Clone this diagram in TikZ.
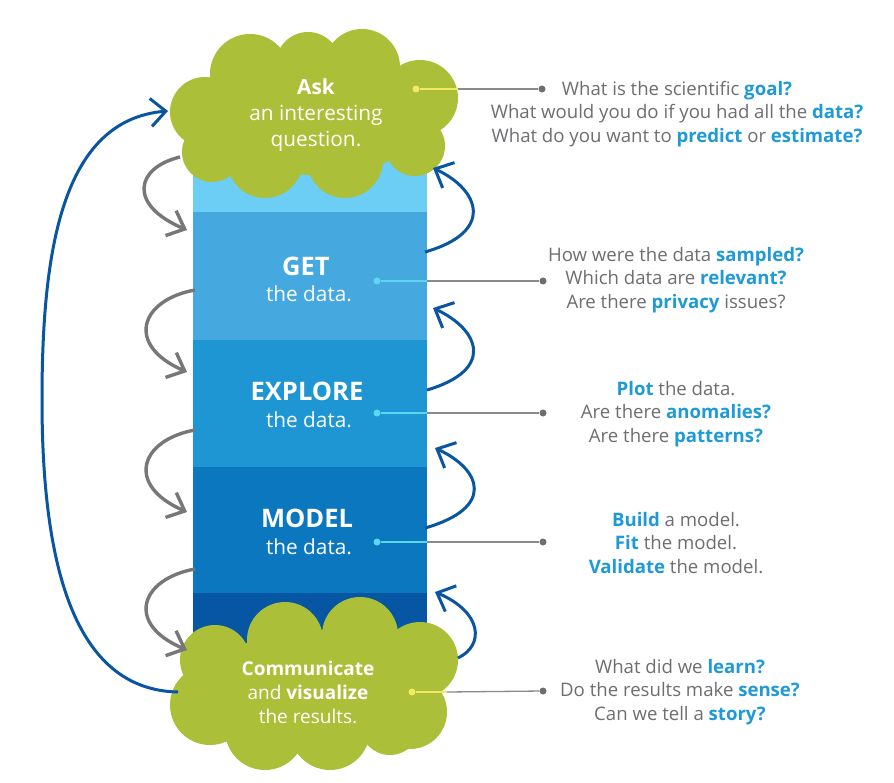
\documentclass[tikz,border=0pt]{standalone}
\usepackage{fontspec}
\setmainfont{Open Sans}
\usetikzlibrary{arrows.meta}
\definecolor{cloudgreen}{HTML}{ACBF38}
\definecolor{bandA}{HTML}{6CCEF5}
\definecolor{bandB}{HTML}{45A9E0}
\definecolor{bandC}{HTML}{1D96D3}
\definecolor{bandD}{HTML}{0B77BE}
\definecolor{bandE}{HTML}{0656A4}
\definecolor{arrowblue}{HTML}{0A55A2}
\definecolor{arrowgray}{HTML}{777777}
\definecolor{txtgray}{HTML}{6D6E71}
\definecolor{hlblue}{HTML}{1E9AD6}
\definecolor{dotyellow}{HTML}{F3E964}
\definecolor{dotcyan}{HTML}{5DD6F2}
\definecolor{linegray}{HTML}{8A8A8A}
\newcommand\hl[1]{\textbf{\color{hlblue}#1}}
\tikzset{
  grayarrow/.style={draw=arrowgray, line width=3.4pt, -{Straight Barb[length=15pt,width=27pt]}},
  bluearrow/.style={draw=arrowblue, line width=3pt, -{Straight Barb[length=15pt,width=28pt]}},
  lbl/.style={text=white, align=center, inner sep=0pt, font=\fontsize{20.8}{26}\selectfont},
  clbl/.style={text=white, align=center, inner sep=0pt, font=\fontsize{19}{24}\selectfont},
  biglbl/.style={text=white, inner sep=0pt, font=\bfseries\fontsize{25.5}{30}\selectfont},
  qtext/.style={text=txtgray, align=center, inner sep=0pt, font=\fontsize{18.6}{23.5}\selectfont},
  ydot/.style={circle, fill=dotyellow, minimum size=7pt, inner sep=0pt},
  cdot/.style={circle, fill=dotcyan, minimum size=7pt, inner sep=0pt},
  gdot/.style={circle, fill=txtgray, minimum size=7pt, inner sep=0pt},
  yline/.style={draw=dotyellow, line width=1.3pt},
  cline/.style={draw=dotcyan, line width=1.3pt},
  gline/.style={draw=linegray, line width=1.3pt},
}
\begin{document}
\begin{tikzpicture}[x=1pt,y=-1pt]
\useasboundingbox (0,0) rectangle (894,783);
\fill[white] (0,0) rectangle (894,783);
% column bands
\fill[bandA] (193,120) rectangle (427,212);
\fill[bandB] (193,212) rectangle (427,340);
\fill[bandC] (193,340) rectangle (427,467);
\fill[bandD] (193,467) rectangle (427,593);
\fill[bandE] (193,593) rectangle (427,690);
% clouds
\fill[cloudgreen] (315,115) ellipse [x radius=115, y radius=60]
  (250,74) circle (40) (308,64) circle (32) (362,67) circle (38)
  (205,112) circle (35) (420,98) circle (38)
  (212,152) circle (30) (415,146) circle (30)
  (265,160) circle (38) (345,160) circle (38);
\fill[cloudgreen] (315,690) ellipse [x radius=110, y radius=60]
  (285,640) circle (38) (360,635) circle (38)
  (215,660) circle (35) (420,660) circle (38)
  (210,705) circle (40) (410,712) circle (37)
  (265,730) circle (40) (330,730) circle (40) (390,725) circle (30);
% labels in column
\node[lbl] (ask) at (316,115) {\textbf{Ask}\\an interesting\\question.};
\node[biglbl] (get) at (306,266) {GET};
\node[lbl] (getsub) at (309,294) {the data.};
\node[biglbl] (explore) at (307,391) {EXPLORE};
\node[lbl] (exploresub) at (309,420) {the data.};
\node[biglbl] (model) at (307,518) {MODEL};
\node[lbl] (modelsub) at (309,547) {the data.};
\node[clbl] (comm) at (308,692) {\textbf{Communicate}\\and \textbf{visualize}\\the results.};
% question blocks
\node[qtext] (q1) at (677,114) {What is the scientific \hl{goal?}\\What would you do if you had all the \hl{data?}\\What do you want to \hl{predict} or \hl{estimate?}};
\node[qtext] (q2) at (676,280) {How were the data \hl{sampled?}\\Which data are \hl{relevant?}\\Are there \hl{privacy} issues?};
\node[qtext] (q3) at (676,414) {\hl{Plot} the data.\\Are there \hl{anomalies?}\\Are there \hl{patterns?}};
\node[qtext] (q4) at (676,543) {\hl{Build} a model.\\\hl{Fit} the model.\\\hl{Validate} the model.};
\node[qtext] (q5) at (680,692) {What did we \hl{learn?}\\Do the results make \hl{sense?}\\Can we tell a \hl{story?}};
% pointer lines
\node[ydot] (d1) at (416,89) {};
\coordinate (e1) at (458,89);
\node[gdot] (g1) at (542,89) {};
\draw[yline] (d1) -- (e1); \draw[gline] (e1) -- (g1);
\node[cdot] (d2) at (377,281) {};
\coordinate (e2) at (427,281);
\node[gdot] (g2) at (543,281) {};
\draw[cline] (d2) -- (e2); \draw[gline] (e2) -- (g2);
\node[cdot] (d3) at (377,413) {};
\coordinate (e3) at (427,413);
\node[gdot] (g3) at (543,413) {};
\draw[cline] (d3) -- (e3); \draw[gline] (e3) -- (g3);
\node[cdot] (d4) at (377,542) {};
\coordinate (e4) at (427,542);
\node[gdot] (g4) at (543,542) {};
\draw[cline] (d4) -- (e4); \draw[gline] (e4) -- (g4);
\node[ydot] (d5) at (412,692) {};
\coordinate (e5) at (447,692);
\node[gdot] (g5) at (543,691) {};
\draw[yline] (d5) -- (e5); \draw[gline] (e5) -- (g5);
% gray arrows (down, left side)
\coordinate (gs1) at (180,157); \coordinate (ge1) at (187,230);
\coordinate (gs2) at (195,290); \coordinate (ge2) at (187,372);
\coordinate (gs3) at (195,430); \coordinate (ge3) at (187,512);
\coordinate (gs4) at (195,569); \coordinate (ge4) at (187,650);
\draw[grayarrow] (gs1) .. controls (135,168) and (128,205) .. (ge1);
\draw[grayarrow] (gs2) .. controls (140,300) and (125,345) .. (ge2);
\draw[grayarrow] (gs3) .. controls (140,440) and (125,485) .. (ge3);
\draw[grayarrow] (gs4) .. controls (140,579) and (125,624) .. (ge4);
% blue arrows (up, right side)
\coordinate (bs1) at (425,252); \coordinate (be1) at (433,168);
\coordinate (bs2) at (427,390); \coordinate (be2) at (433,308);
\coordinate (bs3) at (425,528); \coordinate (be3) at (435,448);
\coordinate (bs4) at (458,658); \coordinate (be4) at (435,592);
\draw[bluearrow] (bs1) .. controls (495,232) and (480,190) .. (be1);
\draw[bluearrow] (bs2) .. controls (495,370) and (480,330) .. (be2);
\draw[bluearrow] (bs3) .. controls (495,508) and (482,470) .. (be3);
\draw[bluearrow] (bs4) .. controls (485,645) and (482,612) .. (be4);
% big loop arrow
\coordinate (ls) at (178,692); \coordinate (lm) at (42,400); \coordinate (le) at (168,111);
\draw[bluearrow] (ls) .. controls (72,690) and (42,560) .. (lm) .. controls (42,250) and (62,120) .. (le);
\end{tikzpicture}
\end{document}
